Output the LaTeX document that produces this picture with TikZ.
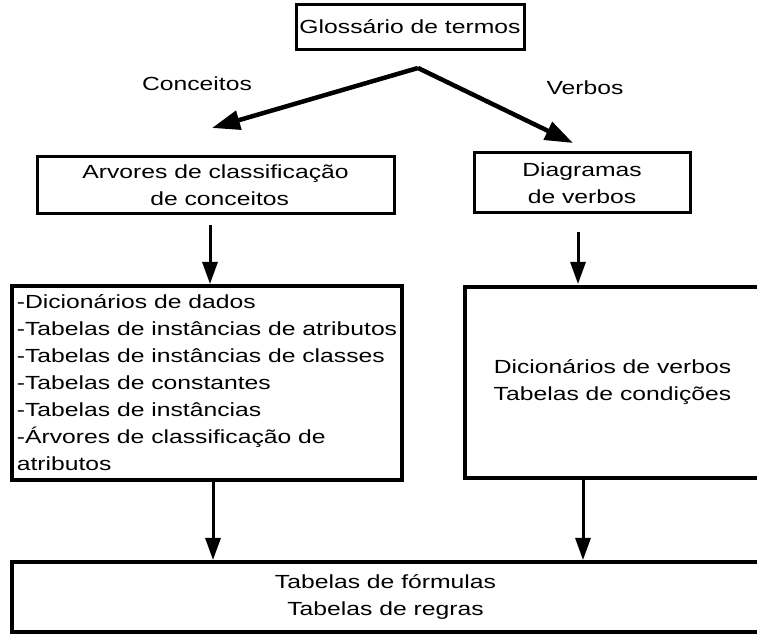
\documentclass[tikz,border=0pt]{standalone}
\usepackage{fontspec}
\setmainfont{Liberation Sans}[FakeStretch=1.3]
\usetikzlibrary{arrows.meta}
\usetikzlibrary{calc}

\begin{document}
\begin{tikzpicture}[x=1pt, y=1pt, semithick, font=\fontsize{19}{27}\selectfont]
			\tikzstyle{box}=[draw=black, fill=white, text=black, line width=3pt, inner sep=0pt]
			\tikzstyle{bigbox}=[box, line width=4pt]
			\tikzstyle{txt}=[inner sep=0pt, text=black]
			\tikzstyle{arrow}=[-{Triangle[length=22pt,width=15pt]}, line width=3pt]
			\tikzstyle{fatarrow}=[-{Triangle[length=28pt,width=19pt]}, line width=4.5pt]
			\useasboundingbox (0,0) rectangle (757,634);

			\node[box, minimum width=228, minimum height=45] (gloss) at (410,607) {Gloss\'ario de termos};
			\node[txt] (conc) at (197,550) {Conceitos};
			\node[txt] (verb) at (585,546) {Verbos};

			\node[box, minimum width=357, minimum height=57, align=left] (arv) at (215.5,449)
				{Arvores de classifica\c{c}\~ao\\\hspace*{68pt}de conceitos};
			\node[box, minimum width=216, minimum height=60, align=center] (diag) at (582,451) {Diagramas\\de verbos};

			\node[bigbox, minimum width=390, minimum height=194, align=left] (dic) at (207,251)
				{-Dicion\'arios de dados\\-Tabelas de inst\^ancias de atributos\\-Tabelas de inst\^ancias de classes\\-Tabelas de constantes\\-Tabelas de inst\^ancias\\-\'Arvores de classifica\c{c}\~ao de\\atributos};
			\node[bigbox, minimum width=295, minimum height=191, align=center] (verbdic) at (612.5,251.5)
				{Dicion\'arios de verbos\\Tabelas de condi\c{c}\~oes};

			\node[bigbox, minimum width=747, minimum height=70, align=center] (regras) at (385.5,37)
				{Tabelas de f\'ormulas\\Tabelas de regras};

			\coordinate (split) at (418,566);
			\coordinate (tipl) at (212,506);
			\coordinate (tipr) at (573,491);
			\draw[fatarrow] (split) -- (tipl);
			\draw[fatarrow] (split) -- (tipr);

			\coordinate (fromarv) at (210,409);
			\coordinate (fromdiag) at (578,402);
			\foreach \c in {fromarv,fromdiag}{
				\draw[arrow] (\c) -- (\c |- dic.north);
				}
			\foreach \s/\x in {dic/213,verbdic/583}{
				\draw[arrow] (\x,0 |- \s.south) -- (\x,0 |- regras.north);
				}
\end{tikzpicture}
\end{document}
